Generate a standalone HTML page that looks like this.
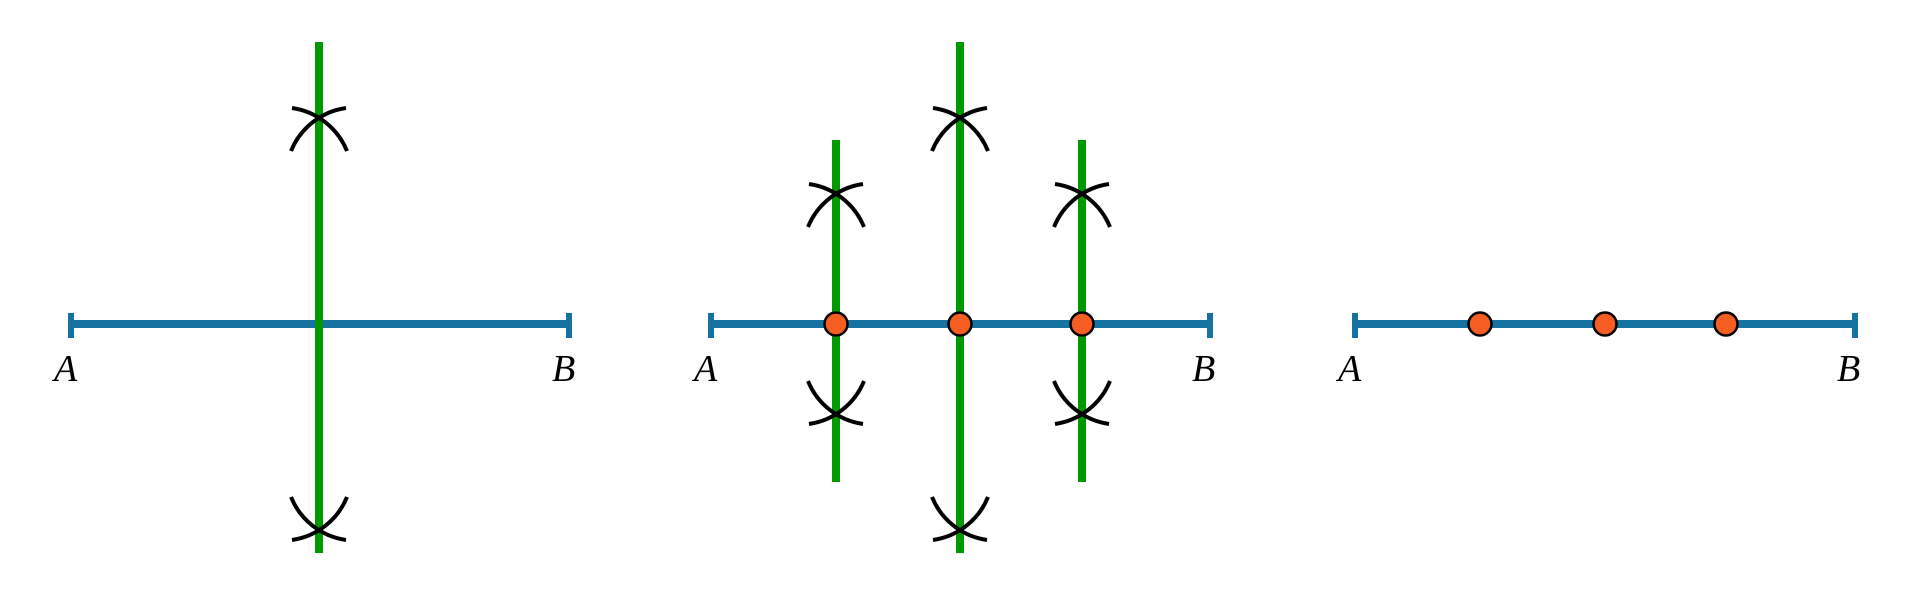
<!DOCTYPE html>
<html><head><meta charset="utf-8"><style>
html,body{margin:0;padding:0;background:#fff;}
svg{display:block;}
text{font-family:"Liberation Serif",serif;font-style:italic;font-size:38px;fill:#000;}
</style></head><body>
<svg width="1920" height="597" viewBox="0 0 1920 597" xmlns="http://www.w3.org/2000/svg">
<defs>
<g id="arcsTop" fill="none" stroke="#000" stroke-width="4">
<path d="M-27,-9 A70,70 0 0 1 28,34"/>
<path d="M27,-9 A70,70 0 0 0 -28,34"/>
</g>
<g id="arcsBot" fill="none" stroke="#000" stroke-width="4">
<path d="M-27,9 A70,70 0 0 0 28,-34"/>
<path d="M27,9 A70,70 0 0 1 -28,-34"/>
</g>
</defs>
<!-- Panel 1 -->
<line x1="71" y1="324" x2="569" y2="324" stroke="#1572a1" stroke-width="8"/>
<line x1="71" y1="313" x2="71" y2="338" stroke="#1572a1" stroke-width="6"/>
<line x1="569" y1="313" x2="569" y2="338" stroke="#1572a1" stroke-width="6"/>
<line x1="319" y1="42" x2="319" y2="553" stroke="#009900" stroke-width="8"/>
<use href="#arcsTop" x="319" y="117"/>
<use href="#arcsBot" x="319" y="531"/>
<text x="54" y="381">A</text>
<text x="552" y="381">B</text>
<!-- Panel 2 -->
<line x1="711" y1="324" x2="1210" y2="324" stroke="#1572a1" stroke-width="8"/>
<line x1="711" y1="313" x2="711" y2="338" stroke="#1572a1" stroke-width="6"/>
<line x1="1210" y1="313" x2="1210" y2="338" stroke="#1572a1" stroke-width="6"/>
<line x1="836" y1="140" x2="836" y2="482" stroke="#009900" stroke-width="8"/>
<line x1="960" y1="42" x2="960" y2="553" stroke="#009900" stroke-width="8"/>
<line x1="1082" y1="140" x2="1082" y2="482" stroke="#009900" stroke-width="8"/>
<use href="#arcsTop" x="836" y="193"/>
<use href="#arcsBot" x="836" y="415"/>
<use href="#arcsTop" x="960" y="117"/>
<use href="#arcsBot" x="960" y="531"/>
<use href="#arcsTop" x="1082" y="193"/>
<use href="#arcsBot" x="1082" y="415"/>
<g fill="#f55d23" stroke="#000" stroke-width="2.5">
<circle cx="836" cy="324" r="11.5"/>
<circle cx="960" cy="324" r="11.5"/>
<circle cx="1082" cy="324" r="11.5"/>
</g>
<text x="694" y="381">A</text>
<text x="1192" y="381">B</text>
<!-- Panel 3 -->
<line x1="1355" y1="324" x2="1855" y2="324" stroke="#1572a1" stroke-width="8"/>
<line x1="1355" y1="313" x2="1355" y2="338" stroke="#1572a1" stroke-width="6"/>
<line x1="1855" y1="313" x2="1855" y2="338" stroke="#1572a1" stroke-width="6"/>
<g fill="#f55d23" stroke="#000" stroke-width="2.5">
<circle cx="1480" cy="324" r="11.5"/>
<circle cx="1605" cy="324" r="11.5"/>
<circle cx="1726" cy="324" r="11.5"/>
</g>
<text x="1338" y="381">A</text>
<text x="1837" y="381">B</text>
</svg>
</body></html>
